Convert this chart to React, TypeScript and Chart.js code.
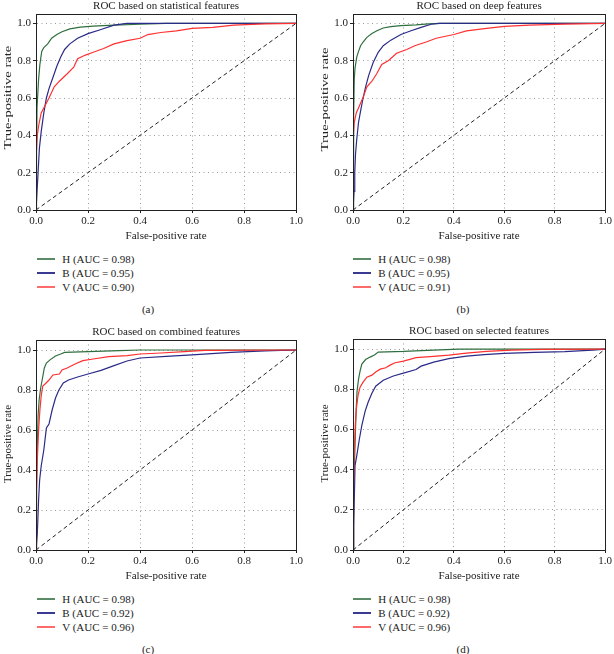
import React, { useEffect, useRef } from 'react';
import { Chart, registerables } from 'chart.js';

Chart.register(...registerables);

const FONT = '"Liberation Serif", "Times New Roman", serif';
const TEXT = '#222222';
const GREEN = '#2f6f3e';
const BLUE = '#2a2a88';
const RED = '#ff3030';

const SERIES = ['H', 'B', 'V'];
const TITLES = [
  'ROC based on statistical features',
  'ROC based on deep features',
  'ROC based on combined features',
  'ROC based on selected features',
];
const CAPTIONS = ['(a)', '(b)', '(c)', '(d)'];
const AUC_STAT = [0.98, 0.95, 0.9];
const AUC_DEEP = [0.98, 0.95, 0.91];
const AUC_COMB = [0.98, 0.92, 0.96];
const AUC_SEL = [0.98, 0.92, 0.96];

// [false-positive rate, true-positive rate]
const statH = [[0,0],[0.002,0.3],[0.004,0.55],[0.01,0.7],[0.015,0.78],[0.022,0.85],[0.03,0.87],[0.045,0.89],[0.06,0.92],[0.08,0.94],[0.1,0.955],[0.13,0.97],[0.17,0.98],[0.22,0.985],[0.3,0.99],[0.4,0.995],[0.5,1],[1,1]];
const statB = [[0,0],[0.004,0.1],[0.008,0.2],[0.013,0.33],[0.02,0.42],[0.03,0.52],[0.04,0.6],[0.05,0.65],[0.065,0.71],[0.08,0.77],[0.095,0.82],[0.11,0.86],[0.13,0.89],[0.16,0.92],[0.2,0.945],[0.25,0.967],[0.3,0.99],[0.35,1],[1,1]];
const statV = [[0,0],[0.001,0.3],[0.005,0.4],[0.01,0.45],[0.02,0.52],[0.035,0.56],[0.05,0.6],[0.07,0.66],[0.09,0.69],[0.12,0.73],[0.145,0.765],[0.16,0.81],[0.19,0.83],[0.22,0.845],[0.26,0.865],[0.3,0.89],[0.35,0.907],[0.4,0.92],[0.43,0.94],[0.48,0.951],[0.54,0.96],[0.6,0.973],[0.68,0.978],[0.76,0.99],[0.88,0.997],[1,1]];

const deepH = [[0,0],[0.002,0.3],[0.003,0.5],[0.005,0.7],[0.008,0.76],[0.015,0.82],[0.022,0.85],[0.03,0.88],[0.04,0.9],[0.055,0.925],[0.075,0.945],[0.095,0.96],[0.12,0.975],[0.15,0.982],[0.19,0.988],[0.25,0.992],[0.3,0.997],[0.35,1],[1,1]];
const deepB = [[0,0],[0.004,0.1],[0.007,0.2],[0.01,0.3],[0.015,0.38],[0.022,0.47],[0.03,0.53],[0.04,0.6],[0.05,0.66],[0.062,0.72],[0.08,0.79],[0.1,0.845],[0.12,0.88],[0.15,0.91],[0.19,0.94],[0.23,0.96],[0.27,0.978],[0.31,0.995],[0.34,1],[1,1]];
const deepV = [[0,0],[0.001,0.25],[0.002,0.4],[0.005,0.47],[0.013,0.52],[0.026,0.56],[0.042,0.61],[0.055,0.66],[0.075,0.69],[0.094,0.73],[0.114,0.78],[0.14,0.8],[0.173,0.84],[0.213,0.86],[0.245,0.88],[0.29,0.9],[0.33,0.92],[0.4,0.94],[0.45,0.96],[0.53,0.973],[0.6,0.984],[0.7,0.99],[0.84,0.996],[1,1]];

const combH = [[0,0],[0.002,0.3],[0.004,0.47],[0.008,0.67],[0.012,0.75],[0.018,0.81],[0.025,0.86],[0.032,0.91],[0.04,0.935],[0.055,0.952],[0.075,0.97],[0.095,0.98],[0.11,0.988],[0.2,0.992],[0.32,0.997],[0.4,1],[1,1]];
const combB = [[0,0],[0.005,0.08],[0.01,0.25],[0.014,0.35],[0.02,0.42],[0.03,0.5],[0.04,0.61],[0.05,0.63],[0.062,0.7],[0.075,0.76],[0.088,0.8],[0.105,0.835],[0.125,0.85],[0.16,0.865],[0.2,0.88],[0.25,0.898],[0.3,0.922],[0.35,0.945],[0.4,0.96],[0.5,0.968],[0.6,0.976],[0.75,0.988],[0.88,0.996],[1,1]];
const combV = [[0,0],[0.002,0.3],[0.005,0.45],[0.01,0.6],[0.015,0.7],[0.02,0.77],[0.026,0.82],[0.035,0.83],[0.05,0.85],[0.065,0.875],[0.09,0.88],[0.1,0.9],[0.12,0.91],[0.15,0.93],[0.18,0.947],[0.22,0.955],[0.28,0.967],[0.35,0.972],[0.4,0.98],[0.48,0.985],[0.57,0.992],[0.65,0.998],[1,1]];

const selH = [[0,0],[0.002,0.25],[0.005,0.4],[0.008,0.52],[0.012,0.68],[0.016,0.79],[0.022,0.85],[0.028,0.89],[0.035,0.925],[0.05,0.948],[0.068,0.96],[0.085,0.97],[0.1,0.985],[0.2,0.988],[0.32,0.995],[0.42,1],[1,1]];
const selB = [[0,0],[0.003,0.12],[0.006,0.3],[0.008,0.42],[0.015,0.47],[0.025,0.55],[0.035,0.62],[0.048,0.69],[0.06,0.735],[0.075,0.78],[0.09,0.815],[0.12,0.845],[0.16,0.866],[0.2,0.88],[0.25,0.898],[0.27,0.915],[0.32,0.935],[0.38,0.952],[0.45,0.965],[0.52,0.972],[0.6,0.978],[0.72,0.983],[0.84,0.987],[0.95,0.995],[1,1]];
const selV = [[0,0],[0.002,0.3],[0.004,0.45],[0.009,0.62],[0.013,0.7],[0.02,0.77],[0.028,0.81],[0.04,0.835],[0.055,0.86],[0.075,0.87],[0.09,0.886],[0.108,0.9],[0.13,0.907],[0.147,0.92],[0.167,0.932],[0.2,0.94],[0.25,0.957],[0.32,0.964],[0.38,0.97],[0.45,0.98],[0.53,0.988],[0.63,0.995],[0.75,0.998],[1,1]];

const DIAGONAL = [[0, 0], [1, 1]];
const X_TITLE = 'False-positive rate';
const Y_TITLE = 'True-positive rate';

const PANEL_DATA = [
  { H: statH, B: statB, V: statV, auc: AUC_STAT },
  { H: deepH, B: deepB, V: deepV, auc: AUC_DEEP },
  { H: combH, B: combB, V: combV, auc: AUC_COMB },
  { H: selH, B: selB, V: selV, auc: AUC_SEL },
];

// layout (pixels)
const LAYOUT = [
  { left: 0, top: 0, w: 305, h: 243, padR: 8, yTx: 8, yTy: 97.6, yStretch: 1.33, legX: 36.7, legY: 259, capX: 148, capY: 308.7 },
  { left: 317, top: 0, w: 297, h: 243, padR: 7, yTx: 8, yTy: 99.5, yStretch: 1.33, legX: 352.7, legY: 259, capX: 463, capY: 308.7 },
  { left: 0, top: 326, w: 305, h: 257, padR: 8, yTx: 8, yTy: 444, yStretch: 1, legX: 36.7, legY: 599, capX: 148, capY: 648.7 },
  { left: 317, top: 325, w: 297, h: 258, padR: 7, yTx: 8, yTy: 443.5, yStretch: 1, legX: 352.7, legY: 599, capX: 463, capY: 648.7 },
];

const COLORS: Record<string, string> = { H: GREEN, B: BLUE, V: RED };
const LEGEND_COLORS: Record<string, string> = { H: '#5b8a66', B: '#3a3a92', V: '#ff6a6a' };

const toXY = (arr: number[][]) => arr.map(([x, y]) => ({ x, y }));

const boxPlugin = {
  id: 'box',
  afterDraw(chart: any) {
    const { ctx, chartArea } = chart;
    const l = Math.round(chartArea.left) + 0.5;
    const t = Math.round(chartArea.top) + 0.5;
    const r = Math.round(chartArea.right) + 0.5;
    const b = Math.round(chartArea.bottom) + 0.5;
    ctx.save();
    ctx.strokeStyle = TEXT;
    ctx.lineWidth = 1;
    ctx.setLineDash([]);
    ctx.strokeRect(l, t, r - l, b - t);
    ctx.restore();
  },
};

const yTitlePlugin = {
  id: 'yTitle',
  afterDraw(chart: any, _args: any, opts: any) {
    const { ctx } = chart;
    ctx.save();
    ctx.translate(opts.x, opts.y);
    ctx.rotate(-Math.PI / 2);
    ctx.scale(opts.stretch, 1);
    ctx.font = `11px ${FONT}`;
    ctx.fillStyle = TEXT;
    ctx.textAlign = 'center';
    ctx.textBaseline = 'middle';
    ctx.fillText(opts.text, 0, 0);
    ctx.restore();
  },
};

function Panel({ idx }: { idx: number }) {
  const ref = useRef<HTMLCanvasElement>(null);
  const L = LAYOUT[idx];
  const D = PANEL_DATA[idx];
  useEffect(() => {
    const tickFont = { family: FONT, size: 11 };
    const lineDs = (key: string) => ({
      label: key,
      data: toXY((D as any)[key]),
      borderColor: COLORS[key],
      borderWidth: 1.2,
      pointRadius: 0,
      tension: 0,
      fill: false,
    });
    const chart = new Chart(ref.current as HTMLCanvasElement, {
      type: 'line',
      data: {
        datasets: [
          {
            label: 'chance',
            data: toXY(DIAGONAL),
            borderColor: TEXT,
            borderWidth: 1,
            borderDash: [4, 3],
            pointRadius: 0,
            tension: 0,
            fill: false,
          },
          lineDs('V'),
          lineDs('B'),
          lineDs('H'),
        ],
      },
      options: {
        responsive: false,
        animation: false,
        devicePixelRatio: 1,
        layout: { padding: { left: 0, right: L.padR, top: 0, bottom: 0 } },
        plugins: {
          legend: { display: false },
          tooltip: { enabled: false },
          title: {
            display: true,
            text: TITLES[idx],
            fullSize: false,
            color: TEXT,
            font: { family: FONT, size: 11, weight: 'normal', lineHeight: 1.2 },
            padding: { top: 0, bottom: 0.8 },
          },
          yTitle: { text: Y_TITLE, x: L.yTx, y: L.yTy - L.top, stretch: L.yStretch },
        } as any,
        scales: {
          x: {
            type: 'linear',
            min: 0,
            max: 1,
            ticks: {
              stepSize: 0.2,
              includeBounds: false,
              autoSkip: false,
              maxRotation: 0,
              padding: 2,
              color: TEXT,
              font: tickFont,
              callback: (v: any) => Number(v).toFixed(1),
            },
            grid: { color: '#9a9a9a', lineWidth: 1, tickColor: TEXT, tickLength: 3, tickBorderDash: [] },
            border: { display: true, color: TEXT, dash: [1, 3.5] },
            title: { display: true, text: X_TITLE, color: TEXT, font: tickFont, padding: { top: 0, bottom: 0 } },
            afterFit: (s: any) => { s.height = 33; },
          },
          y: {
            type: 'linear',
            min: 0,
            max: 1.05,
            ticks: {
              stepSize: 0.2,
              includeBounds: false,
              autoSkip: false,
              padding: 2,
              color: TEXT,
              font: tickFont,
              callback: (v: any) => Number(v).toFixed(1),
            },
            grid: { color: '#9a9a9a', lineWidth: 1, tickColor: TEXT, tickLength: 3, tickBorderDash: [] },
            border: { display: true, color: TEXT, dash: [1, 3.5] },
            afterFit: (s: any) => { s.width = 36; },
          },
        } as any,
      },
      plugins: [boxPlugin, yTitlePlugin],
    } as any);
    return () => chart.destroy();
  }, [idx]);

  return (
    <>
      <canvas
        ref={ref}
        width={L.w}
        height={L.h}
        style={{ position: 'absolute', left: L.left, top: L.top, width: L.w, height: L.h }}
      />
      {SERIES.map((s, i) => (
        <div
          key={s}
          style={{
            position: 'absolute',
            left: L.legX,
            top: L.legY + i * 14 - 7,
            height: 14,
            display: 'flex',
            alignItems: 'center',
            whiteSpace: 'nowrap',
          }}
        >
          <span style={{ display: 'inline-block', width: 18.5, height: 2, background: LEGEND_COLORS[s] }} />
          <span style={{ marginLeft: 7, font: `11px ${FONT}`, color: TEXT, lineHeight: '14px' }}>
            {`${s} (AUC = ${D.auc[i].toFixed(2)})`}
          </span>
        </div>
      ))}
      <div
        style={{
          position: 'absolute',
          left: L.capX,
          top: L.capY - 7,
          transform: 'translateX(-50%)',
          font: `11px ${FONT}`,
          color: TEXT,
          lineHeight: '14px',
          whiteSpace: 'nowrap',
        }}
      >
        {CAPTIONS[idx]}
      </div>
    </>
  );
}

export default function App() {
  return (
    <div style={{ position: 'absolute', left: 0, top: 0, width: 614, height: 654, background: '#fff', overflow: 'hidden' }}>
      {[0, 1, 2, 3].map((i) => (
        <Panel key={i} idx={i} />
      ))}
    </div>
  );
}
